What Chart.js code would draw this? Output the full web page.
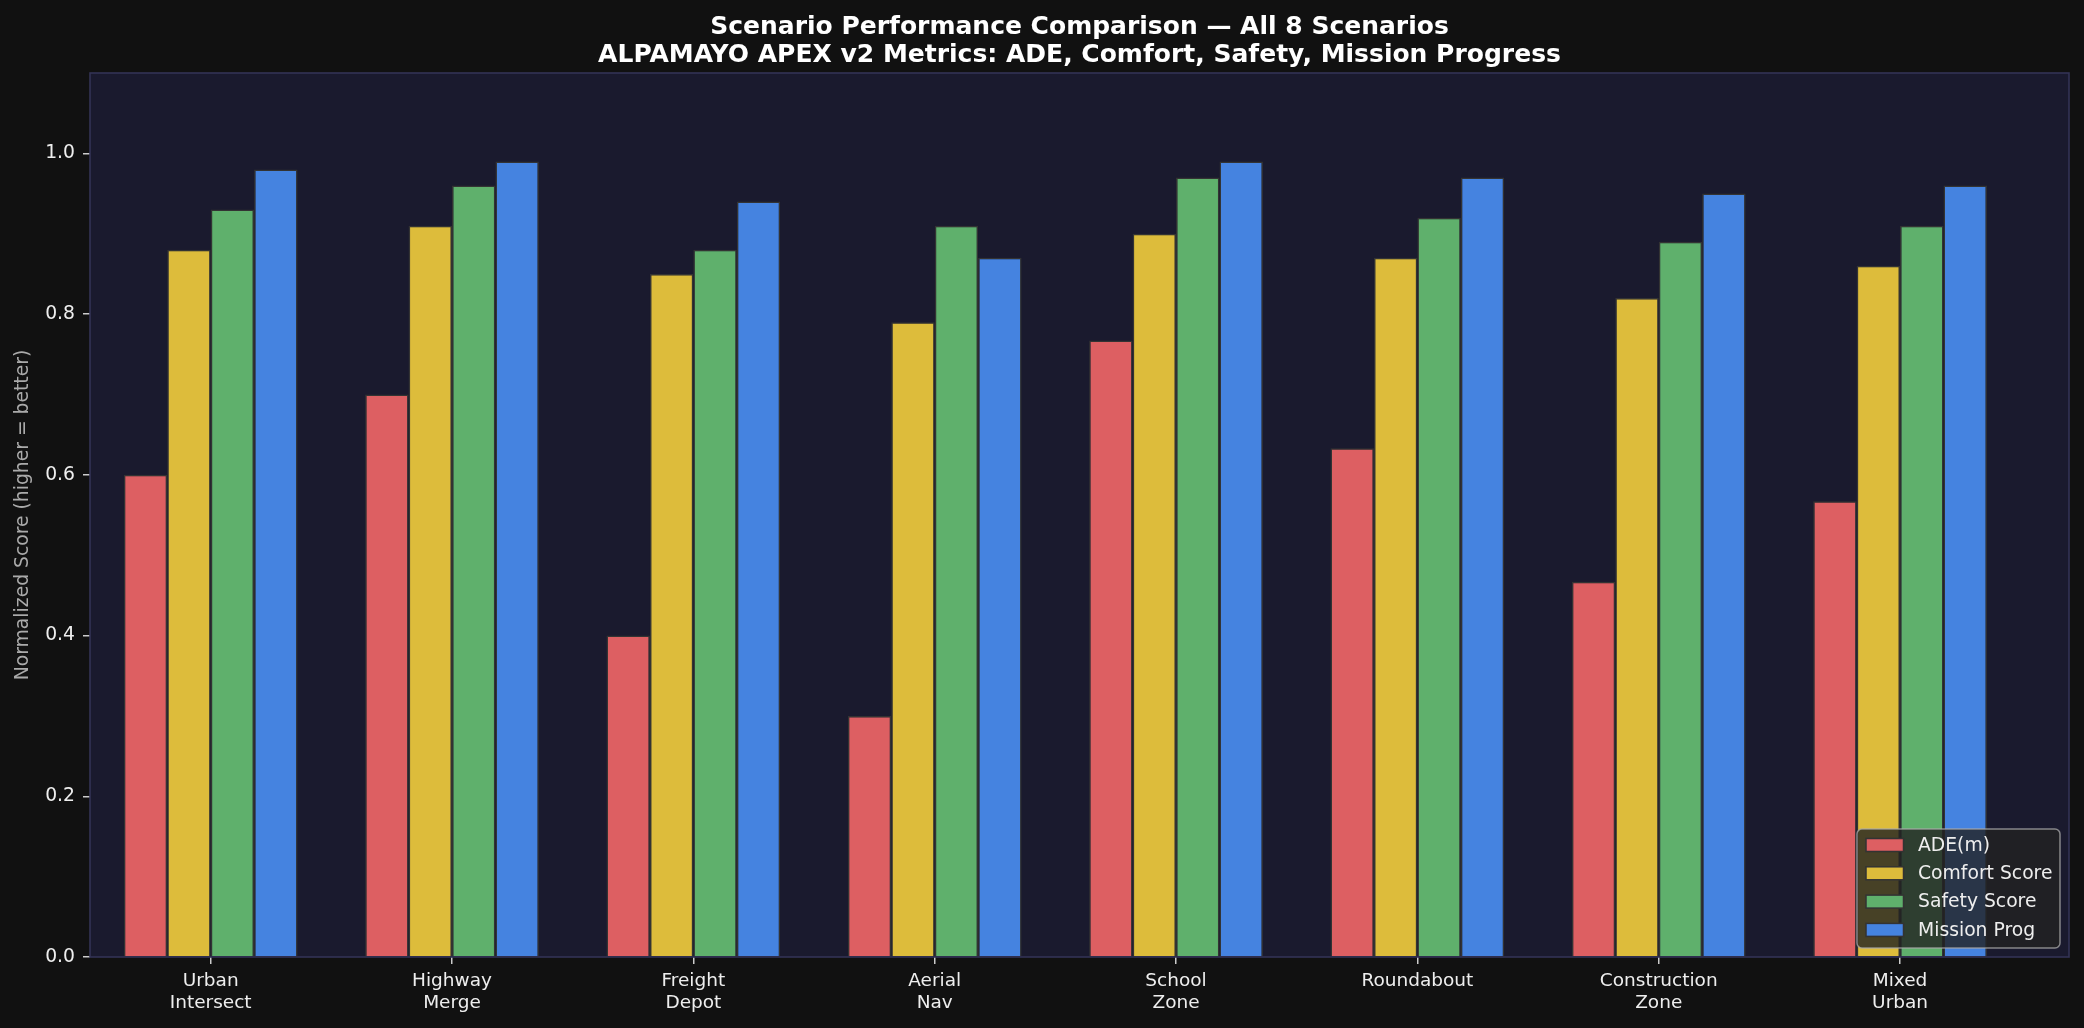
<!DOCTYPE html>
<html>
<head>
<meta charset="utf-8">
<script src="https://cdn.jsdelivr.net/npm/chart.js@4.4.1/dist/chart.umd.min.js"></script>
<style>
    html, body { margin: 0; padding: 0; background: #111111; }
    canvas { display: block; }
</style>
</head>
<body>
<canvas id="chart" width="2084" height="1028"></canvas>
<script>
// Dados do gráfico
const categories = [
    ['Urban', 'Intersect'], ['Highway', 'Merge'], ['Freight', 'Depot'], ['Aerial', 'Nav'],
    ['School', 'Zone'], ['Roundabout'], ['Construction', 'Zone'], ['Mixed', 'Urban']
];
const seriesNames = ['ADE(m)', 'Comfort Score', 'Safety Score', 'Mission Prog'];
const adeScores = [0.60, 0.70, 0.40, 0.30, 0.767, 0.633, 0.467, 0.567];
const comfortScores = [0.88, 0.91, 0.85, 0.79, 0.90, 0.87, 0.82, 0.86];
const safetyScores = [0.93, 0.96, 0.88, 0.91, 0.97, 0.92, 0.89, 0.91];
const missionProg = [0.98, 0.99, 0.94, 0.87, 0.99, 0.97, 0.95, 0.96];
const yTicks = [0, 0.2, 0.4, 0.6, 0.8, 1.0];

const seriesColors = ['#dd5f62', '#ddbc3b', '#5fb06c', '#4583e0'];
const titleLines = [
    'Scenario Performance Comparison \u2014 All 8 Scenarios',
    'ALPAMAYO APEX v2 Metrics: ADE, Comfort, Safety, Mission Progress'
];

const FONT = "'DejaVu Sans', 'Liberation Sans', sans-serif";

// Montar datasets a partir dos arrays
const allSeries = [adeScores, comfortScores, safetyScores, missionProg];
const datasets = allSeries.map((values, s) => ({
    label: seriesNames[s],
    data: values.map((v, i) => ({ x: i, y: v })),
    backgroundColor: seriesColors[s],
    borderColor: '#333333',
    borderWidth: 1.5,
    categoryPercentage: 0.72,
    barPercentage: 1.0
}));

// Fundo, moldura, título e legenda
const decorPlugin = {
    id: 'decor',
    beforeDraw(chart) {
        const { ctx, chartArea: a } = chart;
        ctx.save();
        ctx.fillStyle = '#111111';
        ctx.fillRect(0, 0, chart.width, chart.height);
        ctx.fillStyle = '#1a1a2e';
        ctx.fillRect(a.left, a.top, a.right - a.left, a.bottom - a.top);
        ctx.restore();
    },
    afterDatasetsDraw(chart) {
        const { ctx, chartArea: a } = chart;
        ctx.save();
        ctx.strokeStyle = '#333355';
        ctx.lineWidth = 1.6;
        ctx.strokeRect(a.left, a.top, a.right - a.left, a.bottom - a.top);
        ctx.restore();
    },
    afterDraw(chart) {
        const { ctx, chartArea: a } = chart;
        ctx.save();

        // Título
        ctx.fillStyle = '#ffffff';
        ctx.font = "bold 25px " + FONT;
        ctx.textAlign = 'center';
        ctx.textBaseline = 'alphabetic';
        const cx = (a.left + a.right) / 2;
        titleLines.forEach((t, i) => ctx.fillText(t, cx, 33.5 + i * 28));

        // Legenda
        const boxW = 203, boxH = 119;
        const bx = a.right - 9 - boxW;
        const by = a.bottom - 9 - boxH;
        ctx.beginPath();
        ctx.roundRect(bx, by, boxW, boxH, 5);
        ctx.fillStyle = 'rgba(34, 34, 34, 0.8)';
        ctx.fill();
        ctx.strokeStyle = 'rgba(170, 170, 170, 0.75)';
        ctx.lineWidth = 1.5;
        ctx.stroke();

        ctx.font = "18.75px " + FONT;
        ctx.textAlign = 'left';
        ctx.textBaseline = 'middle';
        chart.data.datasets.forEach((ds, i) => {
            const rowY = by + 16 + i * 28.3;
            ctx.fillStyle = ds.backgroundColor;
            ctx.fillRect(bx + 9, rowY - 6.5, 37.5, 13);
            ctx.strokeStyle = '#333333';
            ctx.lineWidth = 1.5;
            ctx.strokeRect(bx + 9, rowY - 6.5, 37.5, 13);
            ctx.fillStyle = '#eeeeee';
            ctx.fillText(ds.label, bx + 61, rowY + 1);
        });
        ctx.restore();
    }
};

new Chart(document.getElementById('chart').getContext('2d'), {
    type: 'bar',
    data: { datasets: datasets },
    plugins: [decorPlugin],
    options: {
        responsive: false,
        animation: false,
        devicePixelRatio: 1,
        layout: { padding: { top: 73, right: 15, bottom: 0, left: 0 } },
        plugins: {
            legend: { display: false },
            title: { display: false },
            tooltip: { enabled: false }
        },
        scales: {
            x: {
                type: 'linear',
                min: -0.5,
                max: 7.7,
                offset: false,
                afterBuildTicks: (scale) => {
                    scale.ticks = categories.map((c, i) => ({ value: i }));
                },
                afterFit: (scale) => { scale.height = 71; },
                border: { display: false },
                grid: {
                    offset: false,
                    drawOnChartArea: false,
                    drawTicks: true,
                    tickLength: 7,
                    color: '#cccccc',
                    lineWidth: 1.5
                },
                ticks: {
                    autoSkip: false,
                    maxRotation: 0,
                    padding: 6,
                    color: '#eeeeee',
                    font: { family: FONT, size: 18.5, lineHeight: 1.19 },
                    callback: (value) => categories[value]
                }
            },
            y: {
                min: 0,
                max: 1.1,
                afterBuildTicks: (scale) => {
                    scale.ticks = yTicks.map(v => ({ value: v }));
                },
                afterFit: (scale) => { scale.width = 90; },
                border: { display: false },
                grid: {
                    drawOnChartArea: false,
                    drawTicks: true,
                    tickLength: 7,
                    color: '#cccccc',
                    lineWidth: 1.5
                },
                ticks: {
                    padding: 8,
                    color: '#eeeeee',
                    font: { family: FONT, size: 18.75 },
                    callback: (value) => Number(value).toFixed(1)
                },
                title: {
                    display: true,
                    text: 'Normalized Score (higher = better)',
                    color: '#aaaaaa',
                    font: { family: FONT, size: 18.75 },
                    padding: { top: 12, bottom: 0 }
                }
            }
        }
    }
});
</script>
</body>
</html>
